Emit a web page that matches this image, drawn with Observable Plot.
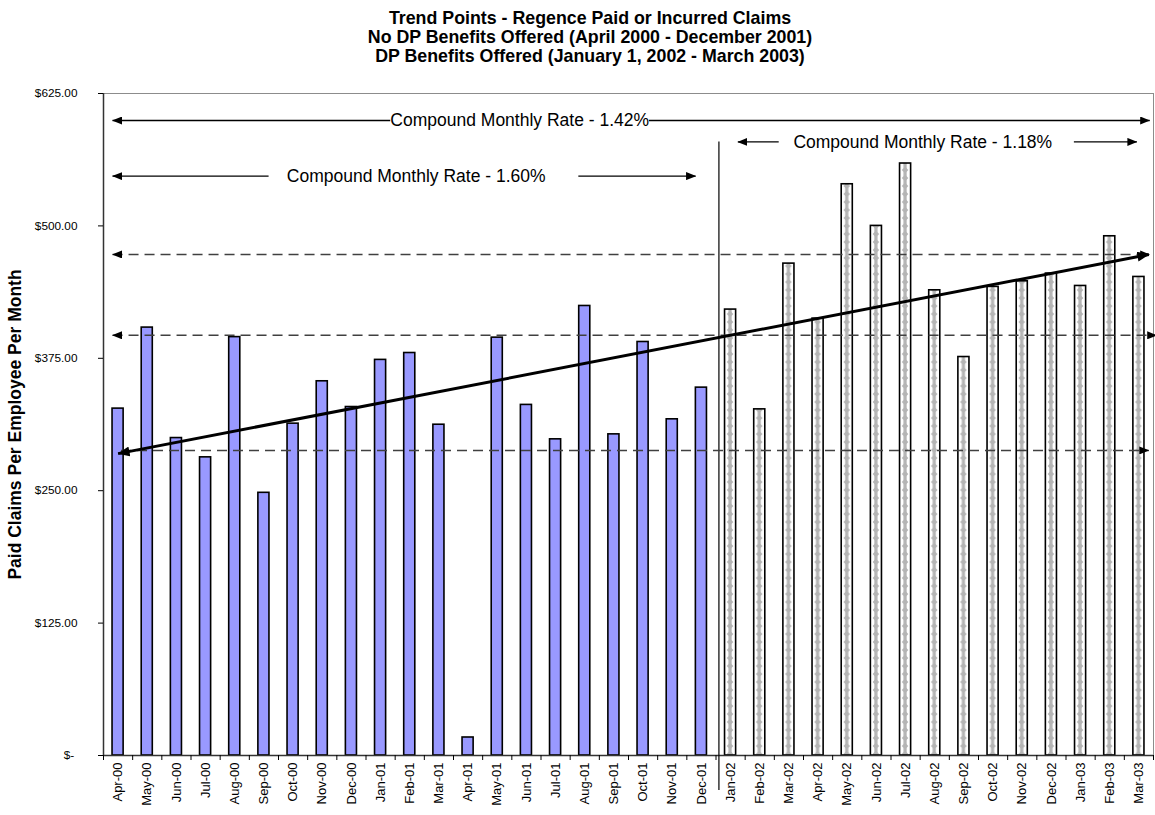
<!DOCTYPE html>
<html><head><meta charset="utf-8">
<script src="https://cdn.jsdelivr.net/npm/d3@7"></script>
<script src="https://cdn.jsdelivr.net/npm/@observablehq/plot@0.6"></script>
<style>
body{margin:0;background:#fff;font-family:"Liberation Sans",Arial,sans-serif;}
#wrap{position:relative;width:1155px;height:815px;overflow:hidden;background:#fff}
#title{position:absolute;left:0;top:9px;width:1180px;text-align:center;font-weight:bold;font-size:17.8px;line-height:19px;color:#000}
#chart{position:absolute;left:0;top:70px}
</style></head><body>
<div id="wrap">
<div id="title">Trend Points - Regence Paid or Incurred Claims<br>No DP Benefits Offered (April 2000 - December 2001)<br>DP Benefits Offered (January 1, 2002 - March 2003)</div>
<div id="chart"></div>
</div>
<script>
// ---- data ----
const months = ["Apr-00","May-00","Jun-00","Jul-00","Aug-00","Sep-00","Oct-00","Nov-00","Dec-00",
  "Jan-01","Feb-01","Mar-01","Apr-01","May-01","Jun-01","Jul-01","Aug-01","Sep-01","Oct-01","Nov-01","Dec-01",
  "Jan-02","Feb-02","Mar-02","Apr-02","May-02","Jun-02","Jul-02","Aug-02","Sep-02","Oct-02","Nov-02","Dec-02",
  "Jan-03","Feb-03","Mar-03"];
const claims = [327.5, 404, 299.7, 281.5, 395, 248, 313.3, 353.3, 329, 373.5, 380, 312.3, 17, 394.5, 331, 298.5,
  424.4, 303.2, 390.4, 317.4, 347.3,
  421, 326.8, 464.4, 412.5, 539.3, 500, 558.9, 439.2, 376.2, 442.4, 447.7, 455, 443.3, 490.2, 451.8];
const noDPCount = 21; // Apr-00 .. Dec-01 without DP benefits
const yTicks = [0, 125, 250, 375, 500, 625];
const yTitle = "Paid Claims Per Employee Per Month";
const rateLabels = ["Compound Monthly Rate - 1.42%", "Compound Monthly Rate - 1.60%", "Compound Monthly Rate - 1.18%"];
const rateLabelX = [13.77, 10.22, 27.59];   // month index
const rateLabelY = [599.5, 547, 579.3];     // $ level
// annotation arrows, in month index / dollar units
const solidArrows = [
  {x1: -0.19, y1: 599.5, x2: 9.33, y2: 599.5, heads: "start"},
  {x1: 18.2, y1: 599.5, x2: 35.37, y2: 599.5, heads: "end"},
  {x1: -0.19, y1: 547, x2: 5.16, y2: 547, heads: "start"},
  {x1: 15.78, y1: 547, x2: 19.8, y2: 547, heads: "end"},
  {x1: 21.25, y1: 579.3, x2: 22.65, y2: 579.3, heads: "start"},
  {x1: 32.77, y1: 579.3, x2: 34.93, y2: 579.3, heads: "end"}
];
const dashedArrows = [
  {x1: -0.19, y1: 473, x2: 35.37, y2: 473, heads: "both"},
  {x1: -0.19, y1: 396.7, x2: 35.61, y2: 396.7, heads: "both"},
  {x1: 0.1, y1: 288, x2: 35.34, y2: 288, heads: "end"}
];
const trend = [{x1: 0, y1: 285, x2: 35.34, y2: 473, heads: "trend"}];
const divider = [{x: 20.6, y1: -33, y2: 579.3}];

// ---- build ----
const bars = claims.map((v, i) => ({i, month: months[i], v, dp: i >= noDPCount}));
const font = "'Liberation Sans', Arial, sans-serif";
const yLabel = d => d === 0 ? "$-\u00a0" : "$" + d3.format(".2f")(d);
const yLabels = yTicks.map(yLabel);

const chart = Plot.plot({
  width: 1155, height: 745,
  marginTop: 23, marginBottom: 60, marginLeft: 103, marginRight: 2,
  style: {fontFamily: font, overflow: "visible", background: "transparent", color: "#000"},
  x: {type: "linear", domain: [-0.5, 35.5], axis: null},
  y: {domain: [0, 625], axis: null},
  marks: [
    Plot.frame({stroke: "#8c8c8c", strokeWidth: 1}),
    Plot.rectY(bars.filter(d => !d.dp), {x1: d => d.i - 0.19, x2: d => d.i + 0.19, y: "v", fill: "#9999ff", stroke: "#000", strokeWidth: 1.6}),
    Plot.rectY(bars.filter(d => d.dp), {x1: d => d.i - 0.19, x2: d => d.i + 0.19, y: "v", fill: "url(#dpPattern)", stroke: "#000", strokeWidth: 1.6}),
    Plot.ruleX([-0.5], {y1: 0, y2: 625, stroke: "#333", strokeWidth: 1.5}),
    Plot.ruleY([0], {x1: -0.5, x2: 35.5, stroke: "#333", strokeWidth: 1.5}),
    Plot.axisY({ticks: yTicks, tickFormat: yLabel, tickSize: 5, tickPadding: 21, fontSize: 12, label: null}),
    Plot.axisX({ticks: d3.range(-0.5, 36, 1), tickFormat: () => "", tickSize: 5, label: null}),
    Plot.axisX({ticks: d3.range(36), tickFormat: i => months[i], tickSize: 0, tickPadding: 7, tickRotate: -90, fontSize: 13, label: null}),
    Plot.text([yTitle], {frameAnchor: "left", textAnchor: "middle", rotate: -90, dx: -88, fontSize: 17.5, fontWeight: "bold"}),
    Plot.ruleX(divider, {x: "x", y1: "y1", y2: "y2", stroke: "#000", strokeWidth: 1.2}),
    Plot.link(dashedArrows, {x1: "x1", y1: "y1", x2: "x2", y2: "y2", stroke: "#404040", strokeWidth: 1.6, strokeDasharray: "10,6", ariaLabel: d => "head-" + d.heads}),
    Plot.link(solidArrows, {x1: "x1", y1: "y1", x2: "x2", y2: "y2", stroke: "#000", strokeWidth: 1.4, ariaLabel: d => "head-" + d.heads}),
    Plot.link(trend, {x1: "x1", y1: "y1", x2: "x2", y2: "y2", stroke: "#000", strokeWidth: 3, ariaLabel: d => "head-" + d.heads}),
    Plot.text(rateLabels, {x: (d, i) => rateLabelX[i], y: (d, i) => rateLabelY[i], text: d => d, fontSize: 17.5, fill: "#000"})
  ]
});
document.getElementById("chart").appendChild(chart);

// ---- post-processing: fonts, pattern fill and arrowheads ----
const svg = d3.select(chart.tagName.toLowerCase() === "svg" ? chart : chart.querySelector("svg"));
svg.selectAll("text").each(function() {
  const t = this.textContent;
  if (months.includes(t)) this.style.fontSize = "13px";
  else if (yLabels.includes(t)) this.style.fontSize = "11.8px";
});

const defs = svg.insert("defs", ":first-child");
const xs = chart.scale("x");
const step = xs.apply(1) - xs.apply(0);
const pat = defs.append("pattern").attr("id", "dpPattern").attr("patternUnits", "userSpaceOnUse")
  .attr("x", xs.apply(0) - step / 2).attr("y", 0).attr("width", step).attr("height", 8);
pat.append("rect").attr("width", step).attr("height", 8).attr("fill", "#fff");
pat.append("path").attr("d", `M${step/2},0.4L${step/2+3.2},4L${step/2},7.6L${step/2-3.2},4Z`).attr("fill", "#b4b4b4");
pat.append("rect").attr("x", step/2 - 1.6).attr("y", 0).attr("width", 3.2).attr("height", 8).attr("fill", "#b4b4b4");

function marker(id, w, h) {
  const m = defs.append("marker").attr("id", id).attr("viewBox", `0 0 ${w} ${h}`)
    .attr("refX", w - 0.5).attr("refY", h / 2).attr("markerWidth", w).attr("markerHeight", h)
    .attr("markerUnits", "userSpaceOnUse").attr("orient", "auto-start-reverse");
  m.append("path").attr("d", `M0,0L${w},${h/2}L0,${h}Z`).attr("fill", "#000");
}
marker("head", 10, 8);
marker("headBig", 12, 10);
svg.selectAll('path[aria-label="head-both"]').attr("marker-start", "url(#head)").attr("marker-end", "url(#head)");
svg.selectAll('path[aria-label="head-start"]').attr("marker-start", "url(#head)");
svg.selectAll('path[aria-label="head-end"]').attr("marker-end", "url(#head)");
svg.selectAll('path[aria-label="head-trend"]').attr("marker-start", "url(#headBig)").attr("marker-end", "url(#headBig)");
</script>
</body></html>
